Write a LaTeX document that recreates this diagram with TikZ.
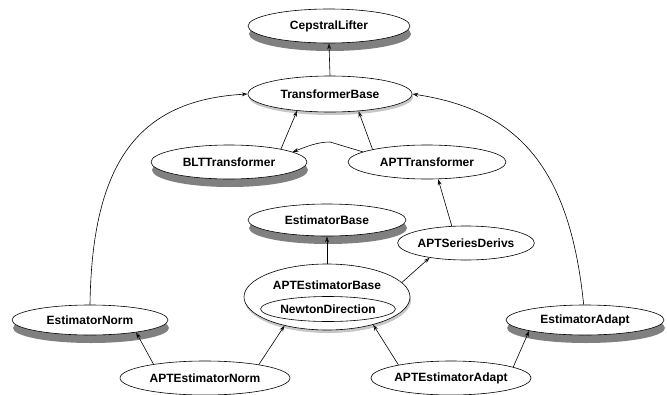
\documentclass[tikz,border=0pt]{standalone}
\usepackage{fontspec}
\setmainfont{Liberation Sans}
\usetikzlibrary{shapes.geometric,shadows,arrows.meta}
\begin{document}
\begin{tikzpicture}[x=1pt,y=-1pt,
  cls/.style={ellipse,draw,fill=white,line width=0.6pt,inner sep=0pt,
    font=\fontsize{12}{14}\selectfont\bfseries},
  dshadow/.style={drop shadow={shadow xshift=1pt,shadow yshift=-8pt,fill=black!50,opacity=1}},
  lshadow/.style={drop shadow={shadow xshift=1pt,shadow yshift=-3pt,fill=black!22,opacity=1}},
  arr/.style={draw,line width=0.6pt,-{Stealth[open,length=6pt,width=4pt]}},
  lbl/.style={font=\fontsize{12}{14}\selectfont\bfseries,inner sep=0pt}]
\useasboundingbox (0,0) rectangle (667,394);

\node[cls,dshadow,minimum width=162,minimum height=34] (CL) at (329,26) {CepstralLifter};
\node[cls,lshadow,minimum width=164,minimum height=36] (TB) at (330,94) {TransformerBase};
\node[cls,dshadow,minimum width=156,minimum height=34] (BLT) at (229,162) {BLTTransformer};
\node[cls,minimum width=158,minimum height=34] (APTT) at (427,162) {APTTransformer};
\node[cls,dshadow,minimum width=158,minimum height=32] (EB) at (327,220) {EstimatorBase};
\node[cls,minimum width=118,minimum height=34] (APTSD) at (466,243) {APTSeriesDerivs};
\node[cls,lshadow,minimum width=166,minimum height=66] (APTEB) at (327,297) {};
\node[lbl] (APTEBl) at (327,285) {APTEstimatorBase};
\node[cls,minimum width=118,minimum height=25] (ND) at (328,309) {NewtonDirection};
\node[cls,dshadow,minimum width=156,minimum height=30] (EN) at (90,320) {EstimatorNorm};
\node[cls,dshadow,minimum width=158,minimum height=30] (EA) at (585,320) {EstimatorAdapt};
\node[cls,minimum width=170,minimum height=34] (APTEN) at (205,378) {APTEstimatorNorm};
\node[cls,minimum width=150,minimum height=34] (APTEA) at (451,378) {APTEstimatorAdapt};

\draw[arr] (TB.north) -- (CL.south);
\draw[arr] (BLT.14) -- (TB.207);
\draw[arr] (APTT.167) -- (TB.329);
\draw[arr] (APTT.171) -- (330,142) .. controls (318,142) and (308,146) .. (BLT.9);
\draw[arr] (EN.north) .. controls (92,160) and (140,100) .. (TB.west);
\draw[arr] (EA.95) .. controls (570,170) and (520,110) .. (TB.east);
\draw[arr] (APTSD.130) -- (APTT.303);
\draw[arr] (APTEB.north) -- (EB.south);
\draw[arr] (APTEB.11) -- (APTSD.202);
\draw[arr] (APTEN.165) -- (EN.345);
\draw[arr] (APTEN.14) -- (APTEB.214);
\draw[arr] (APTEA.166) -- (APTEB.329);
\draw[arr] (APTEA.10) -- (EA.191);
\end{tikzpicture}
\end{document}
